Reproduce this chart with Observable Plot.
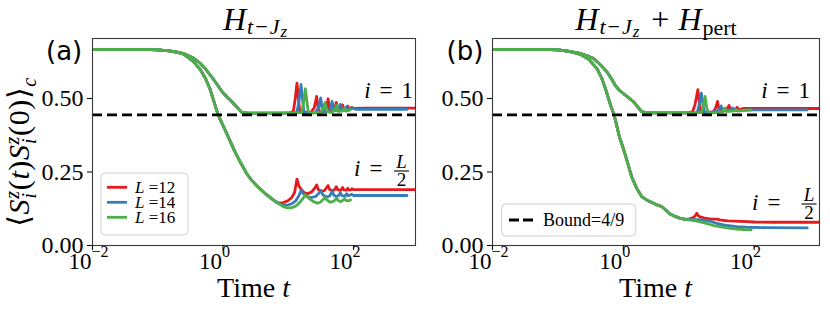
<!DOCTYPE html>
<html><head><meta charset="utf-8">
<script src="https://cdn.jsdelivr.net/npm/d3@7"></script>
<script src="https://cdn.jsdelivr.net/npm/@observablehq/plot@0.6"></script>
<style>
body{margin:0;background:#fff;}
#wrap{position:relative;width:830px;height:313px;overflow:hidden;background:#fff;}
#wrap svg{position:absolute;top:0;overflow:visible;}
</style></head><body><div id="wrap"></div>
<script>
// ---------- data ----------
const sizes = ["12", "14", "16"];
const colors = ["#e41a1c", "#377eb8", "#4daf4a"];
const bound = 4 / 9;
const xTicks = [0.01, 1, 100];
const xTickExponents = ["\u22122", "0", "2"];
const yTicks = [0, 0.25, 0.5];

// panel (a): H_{t-Jz}, shared early-time decay (all L overlap)
const a_i1_early = [[0.01,0.667],[0.03,0.667],[0.06,0.667],[0.1,0.665],[0.15,0.662],[0.2,0.658],[0.25,0.653],[0.35,0.638],[0.45,0.619],[0.55,0.598],[0.64,0.579],[0.8,0.55],[0.97,0.523],[1.15,0.505],[1.3,0.494],[1.6,0.473],[1.96,0.452],[2.5,0.45],[4,0.45],[8,0.45],[11,0.451]];
const a_ih_early = [[0.01,0.667],[0.03,0.667],[0.06,0.667],[0.1,0.665],[0.15,0.662],[0.2,0.657],[0.25,0.651],[0.35,0.626],[0.45,0.598],[0.54,0.568],[0.63,0.533],[0.71,0.497],[0.78,0.467],[0.86,0.44],[1.0,0.408],[1.2,0.37],[1.5,0.322],[1.85,0.283],[2.3,0.245],[2.7,0.224],[3.2,0.206],[3.9,0.188],[4.7,0.172],[5.5,0.16]];
const a_i1_L12 = [[12,0.458],[12.8,0.5],[13.6,0.552],[14.3,0.5],[15,0.456],[17,0.451],[22,0.452],[25,0.468],[27.2,0.507],[29,0.462],[32,0.453],[37,0.456],[39,0.475],[40.8,0.499],[43,0.462],[48,0.457],[52,0.47],[54.4,0.487],[57,0.463],[63,0.461],[66,0.47],[68,0.478],[71,0.463],[78,0.462],[81.6,0.474],[86,0.464],[95,0.47],[100,0.466],[150,0.467],[300,0.467],[1000,0.467]];
const a_i1_L14 = [[13.5,0.452],[14.6,0.49],[15.7,0.548],[16.5,0.5],[17.3,0.455],[20,0.451],[26,0.452],[29.5,0.47],[31.4,0.502],[33.5,0.458],[38,0.453],[44,0.465],[47,0.49],[50,0.458],[58,0.46],[62.8,0.48],[66,0.46],[74,0.46],[78.5,0.472],[83,0.46],[94,0.468],[110,0.463],[200,0.463],[660,0.463]];
const a_i1_L16 = [[16,0.452],[17,0.48],[18.3,0.533],[19.3,0.49],[20.3,0.452],[24,0.45],[31,0.452],[34.5,0.465],[36.6,0.487],[39,0.455],[46,0.452],[52,0.462],[55,0.477],[58,0.456],[68,0.457],[73,0.468],[77,0.457],[85,0.46],[90,0.462]];
const a_ih_L12 = [[6.3,0.150],[7.2,0.144],[8.5,0.146],[10,0.153],[11.2,0.162],[12.5,0.18],[13.6,0.226],[14.4,0.205],[15.5,0.193],[17.5,0.18],[20,0.176],[23,0.183],[25.5,0.195],[27.2,0.206],[29,0.19],[32,0.184],[36,0.187],[39,0.198],[40.8,0.204],[43,0.19],[48,0.186],[52,0.192],[54.4,0.2],[57,0.19],[63,0.187],[66,0.192],[68,0.197],[71,0.189],[78,0.188],[81.6,0.195],[85,0.189],[93,0.189],[95,0.193],[100,0.19],[150,0.19],[300,0.19],[1000,0.19]];
const a_ih_L14 = [[6.2,0.152],[7.2,0.143],[8.5,0.137],[10,0.138],[11.5,0.143],[13,0.152],[14.5,0.168],[15.7,0.187],[17,0.177],[19,0.167],[22,0.163],[26,0.166],[29,0.176],[31.4,0.187],[34,0.172],[38,0.165],[43,0.168],[47,0.184],[50,0.171],[56,0.166],[60,0.171],[62.8,0.18],[66,0.17],[74,0.168],[78.5,0.176],[83,0.169],[94,0.174],[100,0.17],[200,0.17],[400,0.17],[660,0.17]];
const a_ih_L16 = [[6.2,0.15],[7.5,0.139],[8.5,0.132],[9.6,0.128],[11,0.128],[12.5,0.132],[14,0.14],[15.5,0.15],[17,0.162],[18.3,0.172],[19.5,0.166],[22,0.156],[25,0.148],[28,0.144],[31,0.147],[34,0.156],[36.6,0.163],[39,0.155],[44,0.147],[50,0.151],[55,0.161],[58,0.153],[64,0.149],[69,0.154],[73,0.159],[77,0.153],[83,0.152],[90,0.155]];

// panel (b): H_{t-Jz} + H_pert
const b_i1_early = [[0.01,0.667],[0.03,0.667],[0.06,0.667],[0.1,0.665],[0.15,0.66],[0.22,0.653],[0.3,0.643],[0.35,0.636],[0.45,0.614],[0.56,0.591],[0.66,0.567],[0.75,0.545],[0.87,0.528],[1.0,0.517],[1.2,0.503],[1.43,0.489],[1.65,0.472],[1.92,0.455],[2.3,0.451],[5,0.451],[10,0.451]];
const b_ih_early = [[0.01,0.667],[0.03,0.667],[0.06,0.667],[0.1,0.665],[0.15,0.66],[0.22,0.65],[0.3,0.632],[0.4,0.6],[0.47,0.568],[0.53,0.535],[0.594,0.5],[0.65,0.472],[0.71,0.45],[0.79,0.41],[0.87,0.37],[0.95,0.345],[1.0,0.33],[1.15,0.285],[1.34,0.234],[1.6,0.195],[1.92,0.166],[2.3,0.154],[2.73,0.146],[3.3,0.138],[3.9,0.132],[4.5,0.12],[5.1,0.108],[6,0.1],[7.3,0.093],[8.5,0.09]];
const b_i1_L12 = [[11.5,0.455],[12.5,0.48],[13.8,0.53],[14.5,0.49],[15.2,0.456],[18,0.452],[24,0.455],[26,0.47],[27.6,0.49],[29,0.462],[34,0.456],[39,0.466],[41.4,0.476],[44,0.46],[52,0.464],[55,0.47],[58,0.462],[70,0.466],[100,0.466],[1000,0.466]];
const b_i1_L14 = [[13.5,0.452],[14.5,0.48],[15.6,0.518],[16.5,0.48],[17.3,0.455],[22,0.452],[29,0.46],[31.2,0.475],[33,0.458],[45,0.462],[47,0.468],[50,0.459],[100,0.461],[650,0.461]];
const b_i1_L16 = [[15.5,0.452],[16.5,0.47],[17.8,0.507],[18.8,0.47],[19.8,0.453],[25,0.451],[33,0.455],[35.6,0.468],[38,0.455],[50,0.458],[53,0.463],[56,0.457],[70,0.46],[90,0.461]];
const b_ih_L12 = [[10,0.09],[11.5,0.094],[12.5,0.1],[13.3,0.11],[14,0.101],[15,0.097],[17,0.094],[20,0.091],[23,0.09],[27,0.09],[30,0.087],[35,0.085],[40,0.084],[50,0.083],[60,0.082],[80,0.081],[100,0.08],[200,0.079],[1000,0.079]];
const b_ih_L14 = [[10,0.088],[13,0.088],[16,0.087],[21,0.083],[28,0.074],[38,0.068],[55,0.064],[78,0.062],[150,0.061],[650,0.06]];
const b_ih_L16 = [[10,0.087],[12,0.085],[15,0.08],[18,0.076],[24,0.068],[30,0.064],[38,0.06],[55,0.056],[70,0.054],[90,0.053]];

// ---------- build tables ----------
function rows(L, curve, early, late) {
  return early.concat(late).map(([t, v]) => ({L, key: L + "-" + curve, t, v}));
}
const dataA = [
  ...rows("12","i1",a_i1_early,a_i1_L12), ...rows("12","ih",a_ih_early,a_ih_L12),
  ...rows("14","i1",a_i1_early,a_i1_L14), ...rows("14","ih",a_ih_early,a_ih_L14),
  ...rows("16","i1",a_i1_early,a_i1_L16), ...rows("16","ih",a_ih_early,a_ih_L16)
];
const dataB = [
  ...rows("12","i1",b_i1_early,b_i1_L12), ...rows("12","ih",b_ih_early,b_ih_L12),
  ...rows("14","i1",b_i1_early,b_i1_L14), ...rows("14","ih",b_ih_early,b_ih_L14),
  ...rows("16","i1",b_i1_early,b_i1_L16), ...rows("16","ih",b_ih_early,b_ih_L16)
];

const SERIF = "'Liberation Serif', 'DejaVu Serif', serif";

function makePanel({data, width, ml, mr, xMax}) {
  return Plot.plot({
    width, height: 313,
    marginLeft: ml, marginRight: mr, marginTop: 38, marginBottom: 68,
    style: {fontFamily: SERIF, fontSize: "24px", background: "transparent", overflow: "visible", color: "#000"},
    x: {type: "log", domain: [0.01, xMax]},
    y: {domain: [0, 0.704]},
    color: {domain: sizes, range: colors},
    marks: [
      Plot.line(data, {x: "t", y: "v", z: "key", stroke: "L", strokeWidth: 2.8, clip: true}),
      Plot.ruleY([bound], {stroke: "#000", strokeWidth: 2.8, strokeDasharray: "10,5"}),
      Plot.frame({stroke: "#3a3a3a", strokeWidth: 1.1}),
      Plot.axisY({ticks: yTicks, tickSize: 5, tickPadding: 4, tickFormat: d3.format(".2f"), label: null}),
      Plot.axisX({ticks: xTicks, tickSize: 5, tickFormat: () => "", label: null}),
      Plot.text(xTicks, {x: d => d, frameAnchor: "bottom", text: () => "10", textAnchor: "end", lineAnchor: "middle", dx: -1, dy: 16, fontSize: 23}),
      Plot.text(xTicks.map((d, i) => ({t: d, e: xTickExponents[i]})), {x: "t", frameAnchor: "bottom", text: "e", textAnchor: "start", lineAnchor: "middle", dx: -1, dy: 6, fontSize: 16})
    ]
  });
}

function mathText(svg, x, y, parts, {anchor = "start", size = 23, family = SERIF, transform = null, spacing = 0} = {}) {
  const t = d3.select(svg).append("text").attr("x", x).attr("y", y).attr("text-anchor", anchor)
    .attr("font-family", family).attr("font-size", size).attr("fill", "#000");
  if (transform) t.attr("transform", transform);
  if (spacing) t.attr("letter-spacing", spacing);
  for (const p of parts) {
    const s = t.append("tspan").text(p.t);
    if (p.i) s.attr("font-style", "italic");
    if (p.s) s.attr("font-size", p.s);
    if (p.dx) s.attr("dx", p.dx);
    if (p.dy) s.attr("dy", p.dy);
  }
  return t;
}
function fraction(svg, cx, yBar, size) {
  const g = d3.select(svg);
  g.append("text").attr("x", cx).attr("y", yBar - 3).attr("text-anchor", "middle").attr("font-family", SERIF)
    .attr("font-style", "italic").attr("font-size", size).text("L");
  g.append("text").attr("x", cx).attr("y", yBar + 15).attr("text-anchor", "middle").attr("font-family", SERIF)
    .attr("font-size", size).text("2");
  g.append("line").attr("x1", cx - 7.5).attr("x2", cx + 7.5).attr("y1", yBar).attr("y2", yBar).attr("stroke", "#000").attr("stroke-width", 1.1);
}
const titleBase = [
  {t: "H", i: true}, {t: "t", i: true, s: 22, dx: 1, dy: 4}, {t: "\u2212", s: 22, dx: 2},
  {t: "J", i: true, s: 22, dx: 2}, {t: "z", i: true, s: 17, dx: 1, dy: 3}
];

const wrap = document.getElementById("wrap");

// ---- panel (a)
const pa = makePanel({data: dataA, width: 418, ml: 92, mr: 3, xMax: Math.pow(10, 2.95)});
pa.style.left = "0px";
wrap.appendChild(pa);
mathText(pa, 255, 30, titleBase, {anchor: "middle", size: 32});
mathText(pa, 46, 60, [{t: "(a)"}], {family: "'DejaVu Sans', sans-serif", size: 26});
mathText(pa, 253.5, 297, [{t: "Time "}, {t: "t", i: true}], {anchor: "middle", size: 28});
mathText(pa, 0, 0, [
  {t: "\u27E8"}, {t: "S", i: true},
  {t: "z", i: true, s: 20, dy: -10}, {t: "i", i: true, s: 20, dx: -8, dy: 17},
  {t: "(", dx: 2, dy: -7}, {t: "t", i: true}, {t: ")"}, {t: "S", i: true},
  {t: "z", i: true, s: 20, dy: -10}, {t: "i", i: true, s: 20, dx: -8, dy: 17},
  {t: "(", dx: 2, dy: -7}, {t: "0"}, {t: ")"}, {t: "\u27E9"},
  {t: "c", i: true, s: 20, dy: 7}
], {anchor: "middle", size: 30, transform: "translate(29,152) rotate(-90)", spacing: 0.6});
// annotations
mathText(pa, 413, 98, [{t: "i", i: true}, {t: "=", dx: 9}, {t: "1", dx: 9}], {anchor: "end", size: 23});
mathText(pa, 354, 176, [{t: "i", i: true}, {t: "=", dx: 9}], {size: 23});
fraction(pa, 401.5, 171, 19);
// legend (a)
{
  const g = d3.select(pa).append("g");
  g.append("rect").attr("x", 101).attr("y", 173).attr("width", 87).attr("height", 62).attr("rx", 4)
    .attr("fill", "#fff").attr("fill-opacity", 0.85).attr("stroke", "#d0d0d0");
  sizes.forEach((L, k) => {
    const y = 187.3 + 15 * k;
    g.append("line").attr("x1", 107).attr("x2", 127).attr("y1", y).attr("y2", y).attr("stroke", colors[k]).attr("stroke-width", 2.8);
    mathText(pa, 135, y + 5.5, [{t: "L", i: true}, {t: " =" + L}], {size: 17});
  });
}

// ---- panel (b)
const pb = makePanel({data: dataB, width: 412, ml: 74, mr: 11, xMax: 1000});
pb.style.left = "418px";
wrap.appendChild(pb);
mathText(pb, 238, 30, [...titleBase,
  {t: "+", dx: 12, dy: -7}, {t: "H", i: true, dx: 9}, {t: "pert", s: 22, dx: 1, dy: 5}], {anchor: "middle", size: 32});
mathText(pb, 28.5, 60, [{t: "(b)"}], {family: "'DejaVu Sans', sans-serif", size: 26});
mathText(pb, 237.5, 297, [{t: "Time "}, {t: "t", i: true}], {anchor: "middle", size: 28});
mathText(pb, 392, 98, [{t: "i", i: true}, {t: "=", dx: 9}, {t: "1", dx: 9}], {anchor: "end", size: 23});
mathText(pb, 334, 210, [{t: "i", i: true}, {t: "=", dx: 9}], {size: 23});
fraction(pb, 391, 204, 19);
// legend (b)
{
  const g = d3.select(pb).append("g");
  g.append("rect").attr("x", 83.7).attr("y", 204).attr("width", 134).attr("height", 32).attr("rx", 4)
    .attr("fill", "#fff").attr("fill-opacity", 0.85).attr("stroke", "#d0d0d0");
  g.append("line").attr("x1", 91).attr("x2", 117).attr("y1", 220).attr("y2", 220).attr("stroke", "#000")
    .attr("stroke-width", 2.8).attr("stroke-dasharray", "10,4");
  mathText(pb, 125, 226, [{t: "Bound=4/9"}], {size: 18});
}
</script></body></html>
